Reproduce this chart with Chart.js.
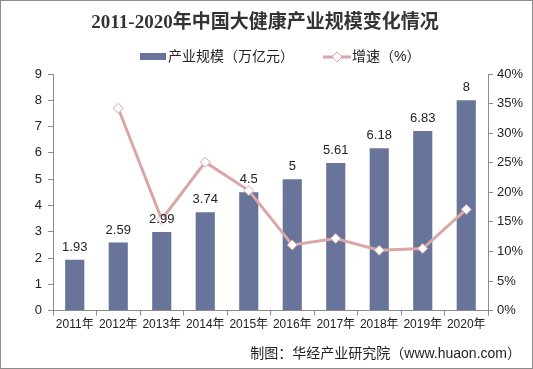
<!DOCTYPE html>
<html>
<head>
<meta charset="utf-8">
<script src="https://cdn.jsdelivr.net/npm/chart.js@4"></script>
<style>
  body { margin: 0; background: #fff; }
  #box { position: relative; width: 533px; height: 369px; box-sizing: border-box; border: 1px solid #8c8c8c; }
  #note { position: absolute; right: 11px; top: 341px; font: 14px "Liberation Sans", "Noto Sans CJK SC", sans-serif; color: #222; }
</style>
</head>
<body>
<div id="box">
  <canvas id="c" width="531" height="367"></canvas>
  <div id="note">制图：华经产业研究院（www.huaon.com）</div>
</div>
<script>
const years = ['2011年', '2012年', '2013年', '2014年', '2015年', '2016年', '2017年', '2018年', '2019年', '2020年'];
const scale = [1.93, 2.59, 2.99, 3.74, 4.5, 5, 5.61, 6.18, 6.83, 8];
const growth = [null, 34.2, 15.4, 25.1, 20.3, 11.1, 12.2, 10.2, 10.5, 17.1];

const titleText = '2011-2020年中国大健康产业规模变化情况';
const barColor = '#68749a';
const lineColor = '#d8a7a6';
const axisColor = '#8c8c8c';
const fam = '"Liberation Sans", "Noto Sans CJK SC", sans-serif';

// title + legend drawn by hand so they sit where the original has them
const header = {
    id: 'header',
    afterDraw(chart) {
        const ctx = chart.ctx;
        ctx.save();
        ctx.fillStyle = '#333';
        ctx.font = 'bold 19px "Liberation Serif", "Noto Sans CJK SC", serif';
        ctx.textAlign = 'center';
        ctx.textBaseline = 'middle';
        ctx.fillText(titleText, 264, 22);

        const ds = chart.data.datasets;
        ctx.font = '14px ' + fam;
        ctx.textAlign = 'left';
        // bar item
        ctx.fillStyle = barColor;
        ctx.fillRect(139, 52, 26, 7);
        ctx.fillStyle = '#222';
        ctx.fillText(ds[0].label, 167, 56);
        // line item
        ctx.strokeStyle = lineColor;
        ctx.lineWidth = 3;
        ctx.beginPath(); ctx.moveTo(322, 56); ctx.lineTo(350, 56); ctx.stroke();
        ctx.fillStyle = '#fff';
        ctx.lineWidth = 1;
        ctx.beginPath();
        ctx.moveTo(336, 51); ctx.lineTo(341, 56); ctx.lineTo(336, 61); ctx.lineTo(331, 56); ctx.closePath();
        ctx.fill(); ctx.stroke();
        ctx.fillStyle = '#222';
        ctx.fillText(ds[1].label, 351, 56);
        ctx.restore();
    }
};

const valueLabels = {
    id: 'valueLabels',
    afterDatasetsDraw(chart) {
        const ctx = chart.ctx;
        const meta = chart.getDatasetMeta(0);
        ctx.save();
        ctx.font = '13px "Liberation Sans", Arial, sans-serif';
        ctx.fillStyle = '#222';
        ctx.textAlign = 'center';
        ctx.textBaseline = 'bottom';
        meta.data.forEach((bar, i) => {
            ctx.fillText(String(scale[i]), bar.x, bar.y - 6);
        });
        ctx.restore();
    }
};

new Chart(document.getElementById('c'), {
    type: 'bar',
    data: {
        labels: years,
        datasets: [
            {
                label: '产业规模（万亿元）',
                data: scale,
                backgroundColor: barColor,
                barPercentage: 0.44,
                categoryPercentage: 1,
                yAxisID: 'y',
                order: 2
            },
            {
                type: 'line',
                label: '增速（%）',
                data: growth,
                borderColor: lineColor,
                borderWidth: 3,
                pointStyle: 'rectRot',
                pointRadius: 5,
                pointBackgroundColor: '#fff',
                pointBorderColor: lineColor,
                pointBorderWidth: 1,
                yAxisID: 'y1',
                order: 1
            }
        ]
    },
    options: {
        responsive: false,
        animation: false,
        layout: { padding: { left: 0, right: 0, top: 73, bottom: 34 } },
        plugins: {
            title: { display: false },
            legend: { display: false },
            tooltip: { enabled: false }
        },
        scales: {
            x: {
                grid: { display: true, drawOnChartArea: false, drawTicks: true, tickLength: 5, color: axisColor, offset: true },
                border: { color: axisColor },
                ticks: { color: '#222', font: { family: fam, size: 12 }, maxRotation: 0, autoSkip: false, padding: 2 }
            },
            y: {
                position: 'left',
                min: 0, max: 9,
                ticks: { stepSize: 1, color: '#222', font: { family: fam, size: 13 }, padding: 6 },
                grid: { drawOnChartArea: false, tickLength: 5, color: axisColor },
                border: { color: axisColor },
                afterFit(s) { s.width = 52; }
            },
            y1: {
                position: 'right',
                min: 0, max: 40,
                ticks: { stepSize: 5, color: '#222', font: { family: fam, size: 13 }, padding: 4, callback: v => v + '%' },
                grid: { drawOnChartArea: false, tickLength: 5, color: axisColor },
                border: { color: axisColor },
                afterFit(s) { s.width = 44; }
            }
        }
    },
    plugins: [valueLabels, header]
});
</script>
</body>
</html>
